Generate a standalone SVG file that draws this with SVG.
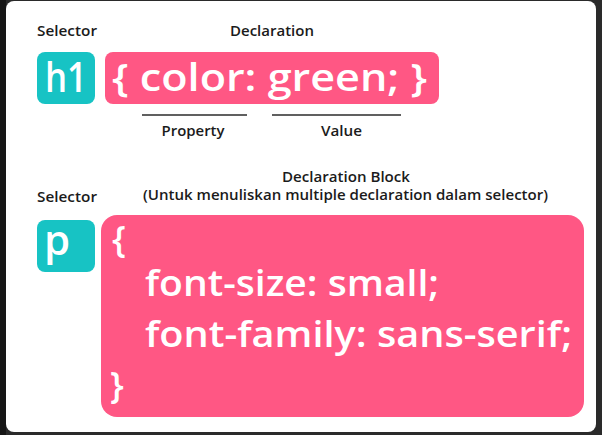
<svg xmlns="http://www.w3.org/2000/svg" width="602" height="435" viewBox="0 0 602 435">
  <style>
    .label { font-family: "Open Sans", "Liberation Sans", sans-serif; font-weight: 600; font-size: 13.5px; fill: #1b1b1b; }
    .code { font-family: "Open Sans", "Liberation Sans", sans-serif; font-weight: 600; fill: #ffffff; }
    .sel { fill: #17c3c4; }
    .decl { fill: #ff5784; }
    .rule { stroke: #2b2b2b; stroke-width: 1.6; }
  </style>

  <!-- page backdrop and card -->
  <rect x="0" y="0" width="602" height="435" fill="#2a2a2a"/>
  <rect x="0" y="0" width="6" height="435" fill="#161616"/>
  <rect x="6" y="1" width="590" height="431" rx="8" fill="#ffffff"/>

  <!-- single declaration example -->
  <g id="label-selector-1">
    <text class="label" x="37" y="36" textLength="60" lengthAdjust="spacingAndGlyphs">Selector</text>
  </g>
  <g id="label-declaration">
    <text class="label" x="272" y="36" text-anchor="middle" textLength="84" lengthAdjust="spacingAndGlyphs">Declaration</text>
  </g>
  <g id="selector-h1">
    <rect class="sel" x="37" y="52" width="58" height="52" rx="8"/>
    <text class="code" x="66" y="92" font-size="41" text-anchor="middle" textLength="42" lengthAdjust="spacingAndGlyphs">h1</text>
  </g>
  <g id="declaration-h1">
    <rect class="decl" x="105" y="52" width="334" height="52" rx="8"/>
    <text class="code" x="112" y="91" font-size="37" textLength="315" lengthAdjust="spacingAndGlyphs">{ color: green; }</text>
  </g>

  <g id="connectors">
    <line class="rule" x1="142" y1="115" x2="247" y2="115"/>
    <line class="rule" x1="272" y1="115" x2="401" y2="115"/>
  </g>

  <g id="label-property">
    <text class="label" x="193" y="136" text-anchor="middle" textLength="63" lengthAdjust="spacingAndGlyphs">Property</text>
  </g>
  <g id="label-value">
    <text class="label" x="341.5" y="136" text-anchor="middle" textLength="41" lengthAdjust="spacingAndGlyphs">Value</text>
  </g>

  <!-- declaration block example -->
  <g id="label-declaration-block">
    <text class="label" x="346" y="182" text-anchor="middle" textLength="128" lengthAdjust="spacingAndGlyphs">Declaration Block</text>
    <text class="label" x="345.5" y="200" text-anchor="middle" textLength="405" lengthAdjust="spacingAndGlyphs">(Untuk menuliskan multiple declaration dalam selector)</text>
  </g>
  <g id="label-selector-2">
    <text class="label" x="37" y="202" textLength="60" lengthAdjust="spacingAndGlyphs">Selector</text>
  </g>
  <g id="selector-p">
    <rect class="sel" x="37" y="220" width="58" height="52" rx="8"/>
    <text class="code" x="57" y="255" font-size="42" text-anchor="middle">p</text>
  </g>
  <g id="declaration-block-p">
    <rect class="decl" x="101" y="215" width="483" height="202" rx="16"/>
    <text class="code" x="112" y="252" font-size="36">{</text>
    <text class="code" x="145" y="296" font-size="36" textLength="294" lengthAdjust="spacingAndGlyphs">font-size: small;</text>
    <text class="code" x="145" y="347" font-size="36" textLength="427" lengthAdjust="spacingAndGlyphs">font-family: sans-serif;</text>
    <text class="code" x="110" y="398" font-size="36">}</text>
  </g>
</svg>
